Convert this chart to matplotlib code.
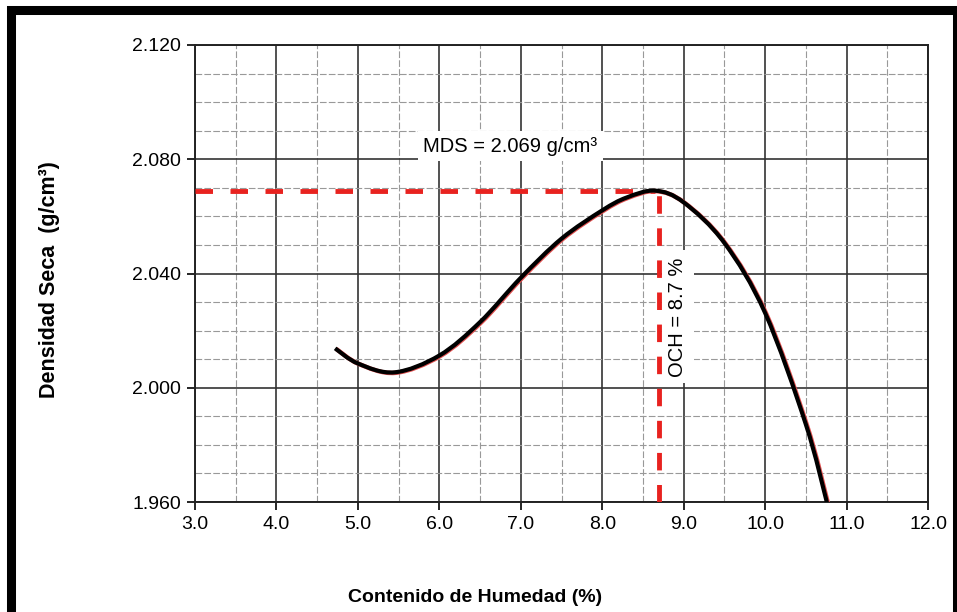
import matplotlib.pyplot as plt
import matplotlib.transforms as mtransforms
from matplotlib.patches import Rectangle, PathPatch
from matplotlib.path import Path
from matplotlib.ticker import MultipleLocator, FormatStrFormatter

plt.rcParams['font.family'] = ['Liberation Sans', 'DejaVu Sans']

# curva de compactacion (humedad %, densidad seca g/cm3)
humedad = [4.72, 5.0, 5.45, 6.0, 6.5, 7.0, 7.5, 8.0, 8.3, 8.65, 9.0, 9.5,
           10.0, 10.5, 10.76]
densidad = [2.0138, 2.0085, 2.0054, 2.0113, 2.0230, 2.0385, 2.0522, 2.0621,
            2.0666, 2.0690, 2.0649, 2.0507, 2.0262, 1.9872, 1.9597]

mds = 2.069
och = 8.7
x_peak = 8.65


def smooth_path(xs, ys):
    # linea suavizada tipo Excel: tramos Bezier cubicos por Catmull-Rom
    pts = list(zip(xs, ys))
    ext = [pts[0]] + pts + [pts[-1]]
    verts = [pts[0]]
    codes = [Path.MOVETO]
    for i in range(1, len(ext) - 2):
        p0, p1, p2, p3 = ext[i - 1], ext[i], ext[i + 1], ext[i + 2]
        c1 = (p1[0] + (p2[0] - p0[0]) / 6, p1[1] + (p2[1] - p0[1]) / 6)
        c2 = (p2[0] - (p3[0] - p1[0]) / 6, p2[1] - (p3[1] - p1[1]) / 6)
        verts += [c1, c2, p2]
        codes += [Path.CURVE4] * 3
    return Path(verts, codes)


fig = plt.figure(figsize=(9.57, 6.12), dpi=100)
ax = fig.add_axes([0.2038, 0.1797, 0.7659, 0.7468])

ax.set_xlim(3.0, 12.0)
ax.set_ylim(1.960, 2.120)
ax.xaxis.set_major_locator(MultipleLocator(1.0))
ax.xaxis.set_minor_locator(MultipleLocator(0.5))
ax.yaxis.set_major_locator(MultipleLocator(0.04))
ax.yaxis.set_minor_locator(MultipleLocator(0.01))
ax.xaxis.set_major_formatter(FormatStrFormatter('%.1f'))
ax.yaxis.set_major_formatter(FormatStrFormatter('%.3f'))

ax.grid(which='major', color='#333333', lw=1.2, zorder=0)
ax.grid(which='minor', color='#999999', lw=0.8, ls=(0, (6, 2)), zorder=0)
ax.tick_params(which='major', direction='out', length=6, width=1.2,
               labelsize=14, pad=4, top=False, right=False)
ax.tick_params(which='minor', length=0)
for s in ax.spines.values():
    s.set_linewidth(1.4)
    s.set_color('#222222')

# lineas de lectura MDS / OCH
ax.plot([3.0, x_peak], [mds, mds], color='#e8221f', lw=3.5,
        dashes=(3.6, 3.6), zorder=3)
ax.plot([och, och], [1.960, mds], color='#e8221f', lw=3.5,
        dashes=(3.6, 3.0), zorder=3)

# curva con un leve trazo rojo debajo
curve = smooth_path(humedad, densidad)
shift = mtransforms.offset_copy(ax.transData, fig=fig, x=1.0, y=-0.5, units='dots')
ax.add_patch(PathPatch(curve, fill=False, ec='#e05050', lw=3.2,
                       transform=shift, zorder=4))
ax.add_patch(PathPatch(curve, fill=False, ec='black', lw=3.0,
                       capstyle='butt', zorder=5))

ax.text(6.87, 2.0846, 'MDS = 2.069 g/cm³', fontsize=14.5, ha='center',
        va='center', zorder=6,
        bbox=dict(facecolor='white', edgecolor='none', pad=4))
ax.text(8.93, 2.0248, 'OCH = 8.7 %', fontsize=14.5, ha='center', va='center',
        rotation=90, zorder=6,
        bbox=dict(facecolor='white', edgecolor='none', pad=5))

fig.text(475 / 957, 1 - 597 / 612, 'Contenido de Humedad (%)', fontsize=14,
         fontweight='bold', ha='center', va='center')
fig.text(50 / 957, 1 - 280 / 612, 'Densidad Seca  (g/cm³)', fontsize=15.5,
         fontweight='bold', rotation=90, ha='center', va='center')

# marco negro grueso
fig.patches.append(Rectangle((11 / 957, -0.01), 946 / 957, 0.993,
                             transform=fig.transFigure, fill=False,
                             edgecolor='black', lw=6.5))

fig.savefig('out.png', dpi=100)
